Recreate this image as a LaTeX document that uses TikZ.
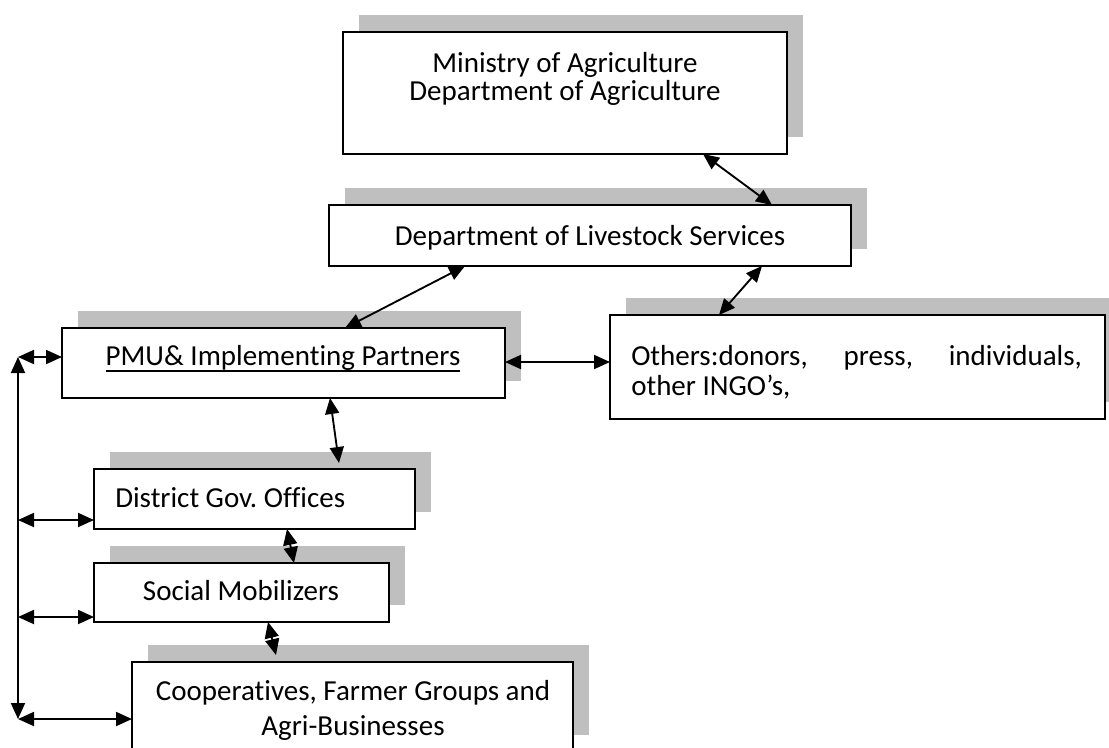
\documentclass[tikz,border=0pt]{standalone}
\usepackage{fontspec}
\setmainfont{Carlito}[Ligatures={NoCommon}]
\usetikzlibrary{arrows.meta,calc,shadows}
\definecolor{shadowgray}{RGB}{191,191,191}
% underline that sits through the descenders, word-processor style
\newsavebox{\ulbox}
\newcommand{\wordul}[1]{\sbox{\ulbox}{#1}\rlap{\rule[-4.6pt]{\wd\ulbox}{1.1pt}}\usebox{\ulbox}}
\frenchspacing
\begin{document}
\begin{tikzpicture}[x=0.75pt,y=-0.75pt,
  orgbox/.style={draw=black,line width=1.4pt,fill=white,inner sep=0pt,outer sep=0pt,
    general shadow={fill=shadowgray,shadow xshift=12pt,shadow yshift=12.4pt}},
  txt/.style={inner sep=0pt,font=\fontsize{21.75pt}{26pt}\selectfont},
  link/.style={line width=1.4pt,{Triangle[length=12pt,width=10.5pt]}-{Triangle[length=12pt,width=10.5pt]}}]
\useasboundingbox (0,0) rectangle (1109,747);

% boxes
\node[orgbox,minimum width=333pt,minimum height=91.5pt]   (min) at (565,93)    {};
\node[orgbox,minimum width=391.5pt,minimum height=45.75pt] (liv) at (590,235.5) {};
\node[orgbox,minimum width=371.25pt,minimum height=78pt]  (oth) at (857.5,367) {};
\node[orgbox,minimum width=332.25pt,minimum height=52.5pt] (pmu) at (283.5,363) {};
\node[orgbox,minimum width=240.75pt,minimum height=45pt]  (dis) at (254.5,499) {};
\node[orgbox,minimum width=221.25pt,minimum height=44.25pt] (soc) at (241.5,592.5) {};
\node[orgbox,minimum width=330.75pt,minimum height=67.5pt] (coo) at (352.5,707) {};

% box texts
\node[txt,anchor=base] (minA) at (565,72)   {Ministry of Agriculture};
\node[txt,anchor=base] (minB) at (565,100.5) {Department of Agriculture};
\node[txt,anchor=base] (livA) at (590,245)  {Department of Livestock Services};
\node[txt,anchor=base west] (othA) at (631,365) {\hbox to 338pt{Others:donors,\hfill press,\hfill individuals,}};
\node[txt,anchor=base west] (othB) at (631,395) {other INGO’s,};
\node[txt,anchor=base] (pmuA) at (283,365.5) {\wordul{PMU\& Implementing Partners}};
\node[txt,anchor=base west] (disA) at (115,507) {District Gov. Offices};
\node[txt,anchor=base] (socA) at (241,600) {Social Mobilizers};
\node[txt,anchor=base] (cooA) at (353,700) {Cooperatives, Farmer Groups and};
\node[txt,anchor=base] (cooB) at (353,735) {Agri-Businesses};

% connectors between the boxes
\coordinate (pmuE) at ($(pmu.east)+(0,-1)$);
\draw[link] ($(min.south west)+(360,0)$) -- ($(liv.north west)+(443,0)$);
\draw[link] ($(liv.south west)+(136,0)$) -- ($(pmu.north west)+(283,0)$);
\draw[link] ($(liv.south west)+(433,0)$) -- ($(oth.north west)+(109,0)$);
\draw[link] (pmuE) -- (pmuE -| oth.west);
\draw[link] ($(pmu.south west)+(268,0)$) -- ($(dis.north west)+(245,-6)$);
\draw[link] ($(dis.south west)+(193,0)$) -- ($(soc.north west)+(200,0)$);
\draw[link] ($(soc.south west)+(174,0)$) -- ($(coo.north west)+(144,-7)$);

% left-hand feedback bus
\coordinate (busTop) at (18,357);
\coordinate (busBot) at (18,719);
\coordinate (busDis) at ($(dis.south west)+(-76,-9)$);
\coordinate (busSoc) at ($(soc.south west)+(-76,-5)$);
\draw[link] (busTop) -- (busBot);
\draw[link] (busTop) -- (busTop -| pmu.west);
\draw[link] (busDis) -- (busDis -| dis.west);
\draw[link] (busSoc) -- (busSoc -| soc.west);
\draw[link] (busBot) -- (busBot -| coo.west);
\end{tikzpicture}
\end{document}
